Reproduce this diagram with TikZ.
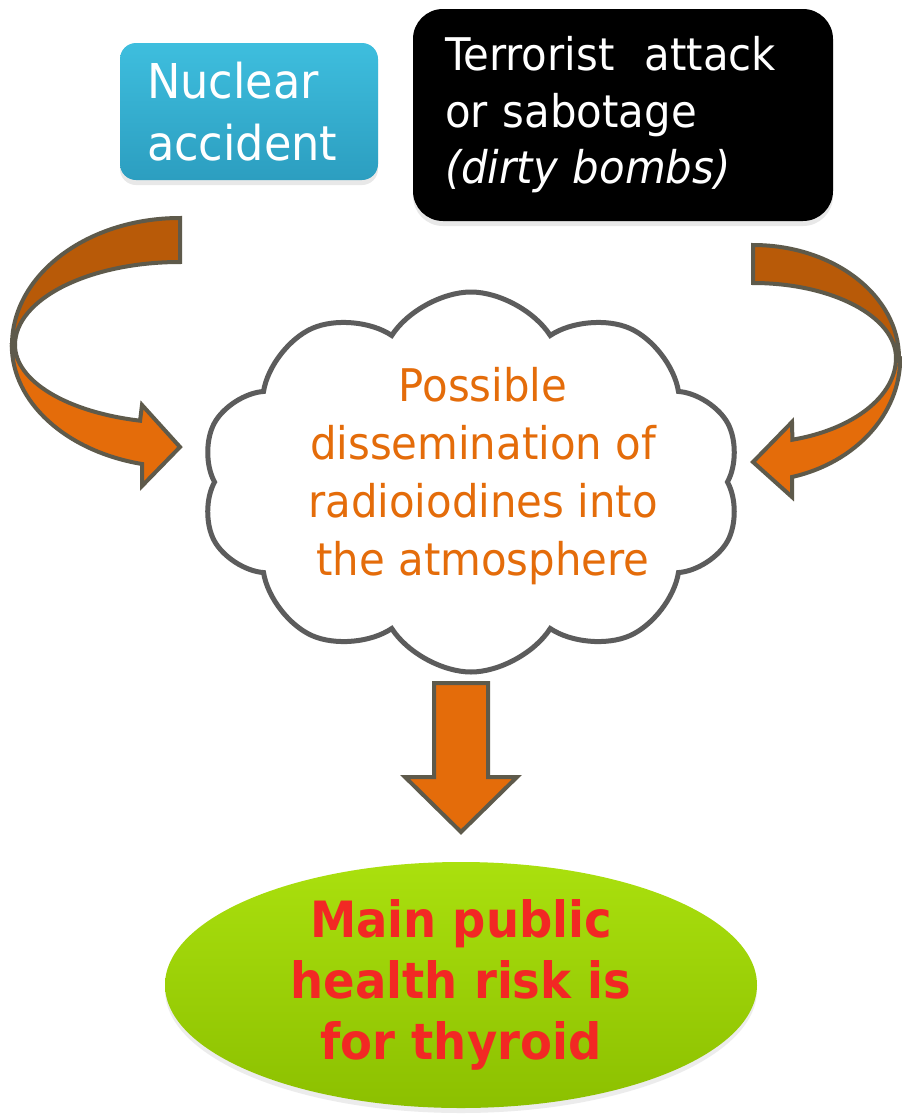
\documentclass[tikz,border=0pt]{standalone}
\usepackage{fontspec}
\setmainfont{DejaVu Sans}[FakeStretch=0.93]
\usetikzlibrary{shapes.symbols, shapes.geometric, shadows, calc}
\definecolor{ribbondark}{RGB}{184,90,8}
\definecolor{ribbonorange}{RGB}{228,108,10}
\definecolor{ribbonline}{RGB}{94,90,75}
\definecolor{cyantop}{RGB}{62,190,222}
\definecolor{cyanbot}{RGB}{44,158,192}
\definecolor{greentop}{RGB}{170,224,14}
\definecolor{greenbot}{RGB}{140,192,0}
\definecolor{cloudline}{RGB}{92,92,92}
\definecolor{riskred}{RGB}{242,40,36}

\begin{document}
\begin{tikzpicture}[x=1pt, y=-1pt,
	ribbon/.style={draw=ribbonline, line width=4pt},
	srcbox/.style={rounded corners=#1, text=white, align=left, inner ysep=0pt,
		drop shadow={shadow xshift=0pt, shadow yshift=-5pt, opacity=0.18}}]
	\fill[white] (0,0) rectangle (902,1117);
	\useasboundingbox (0,0) rectangle (902,1117);

	% Sources
	\node[srcbox=16pt, top color=cyantop, bottom color=cyanbot, text width=204pt,
		inner xsep=27pt, minimum height=137pt,
		font=\fontsize{48}{62}\selectfont] (nuclear) at (249,111.5)
		{Nuclear\\accident};
	\node[srcbox=30pt, fill=black, text width=356pt, inner xsep=32pt,
		minimum height=212pt, font=\fontsize{45}{56.5}\selectfont] (terror) at (623,115)
		{Terrorist\ \ attack\\or sabotage\\\textit{(dirty bombs)}};

	% Cloud
	\node[cloud, cloud puffs=10, cloud puff arc=115, aspect=1.45, draw=cloudline,
		line width=5pt, fill=white, minimum width=540pt, minimum height=380pt]
		(cloud) at (471,482) {};
	\node[text=ribbonorange, align=center, font=\fontsize{45}{58}\selectfont]
		(dissem) at (483,476)
		{Possible\\dissemination of\\radioiodines into\\the atmosphere};

	% Curved arrow, left (centre of the ribbon at 180,345)
	\draw[ribbon, fill=ribbondark] (180,218)
		arc[start angle=270, end angle=180, x radius=168, y radius=127]
		-- (15,345)
		arc[start angle=180, end angle=270, x radius=165, y radius=83] -- cycle;
	\draw[ribbon, fill=ribbonorange] (15,345)
		arc[start angle=180, end angle=104, x radius=165, y radius=78]
		-- (142,405) -- (180,447) -- (142,486) -- (142,464)
		arc[start angle=103, end angle=180, x radius=168, y radius=122] -- cycle;

	% Curved arrow, right (centre of the ribbon at 753,358)
	\draw[ribbon, fill=ribbondark] (753,245)
		arc[start angle=270, end angle=360, x radius=146, y radius=113]
		-- (896,358)
		arc[start angle=0, end angle=-90, x radius=143, y radius=75] -- cycle;
	\draw[ribbon, fill=ribbonorange] (896,358)
		arc[start angle=0, end angle=74, x radius=143, y radius=85]
		-- (792,422) -- (753,462) -- (792,497) -- (792,477)
		arc[start angle=75, end angle=0, x radius=146, y radius=123] -- cycle;

	% Block arrow down
	\def\shaftw{27}   % half width of the shaft
	\def\headw{56}    % half width of the head
	\coordinate (dtop) at (461,683);
	\coordinate (dtip) at (461,832);
	\draw[ribbon, fill=ribbonorange]
		($(dtop)+(-\shaftw,0)$) -- ($(dtop)+(\shaftw,0)$) -- ($(dtip)+(\shaftw,-55)$)
		-- ($(dtip)+(\headw,-55)$) -- (dtip) -- ($(dtip)+(-\headw,-55)$)
		-- ($(dtip)+(-\shaftw,-55)$) -- cycle;

	% Outcome
	\node[ellipse, top color=greentop, bottom color=greenbot, minimum width=592pt,
		minimum height=246pt, inner sep=0pt, text=riskred, align=center,
		drop shadow={shadow xshift=0pt, shadow yshift=-5pt, opacity=0.15},
		font=\bfseries\fontsize{50}{61}\selectfont] (risk) at (461,985)
		{Main public\\health risk is\\for thyroid};
\end{tikzpicture}
\end{document}
